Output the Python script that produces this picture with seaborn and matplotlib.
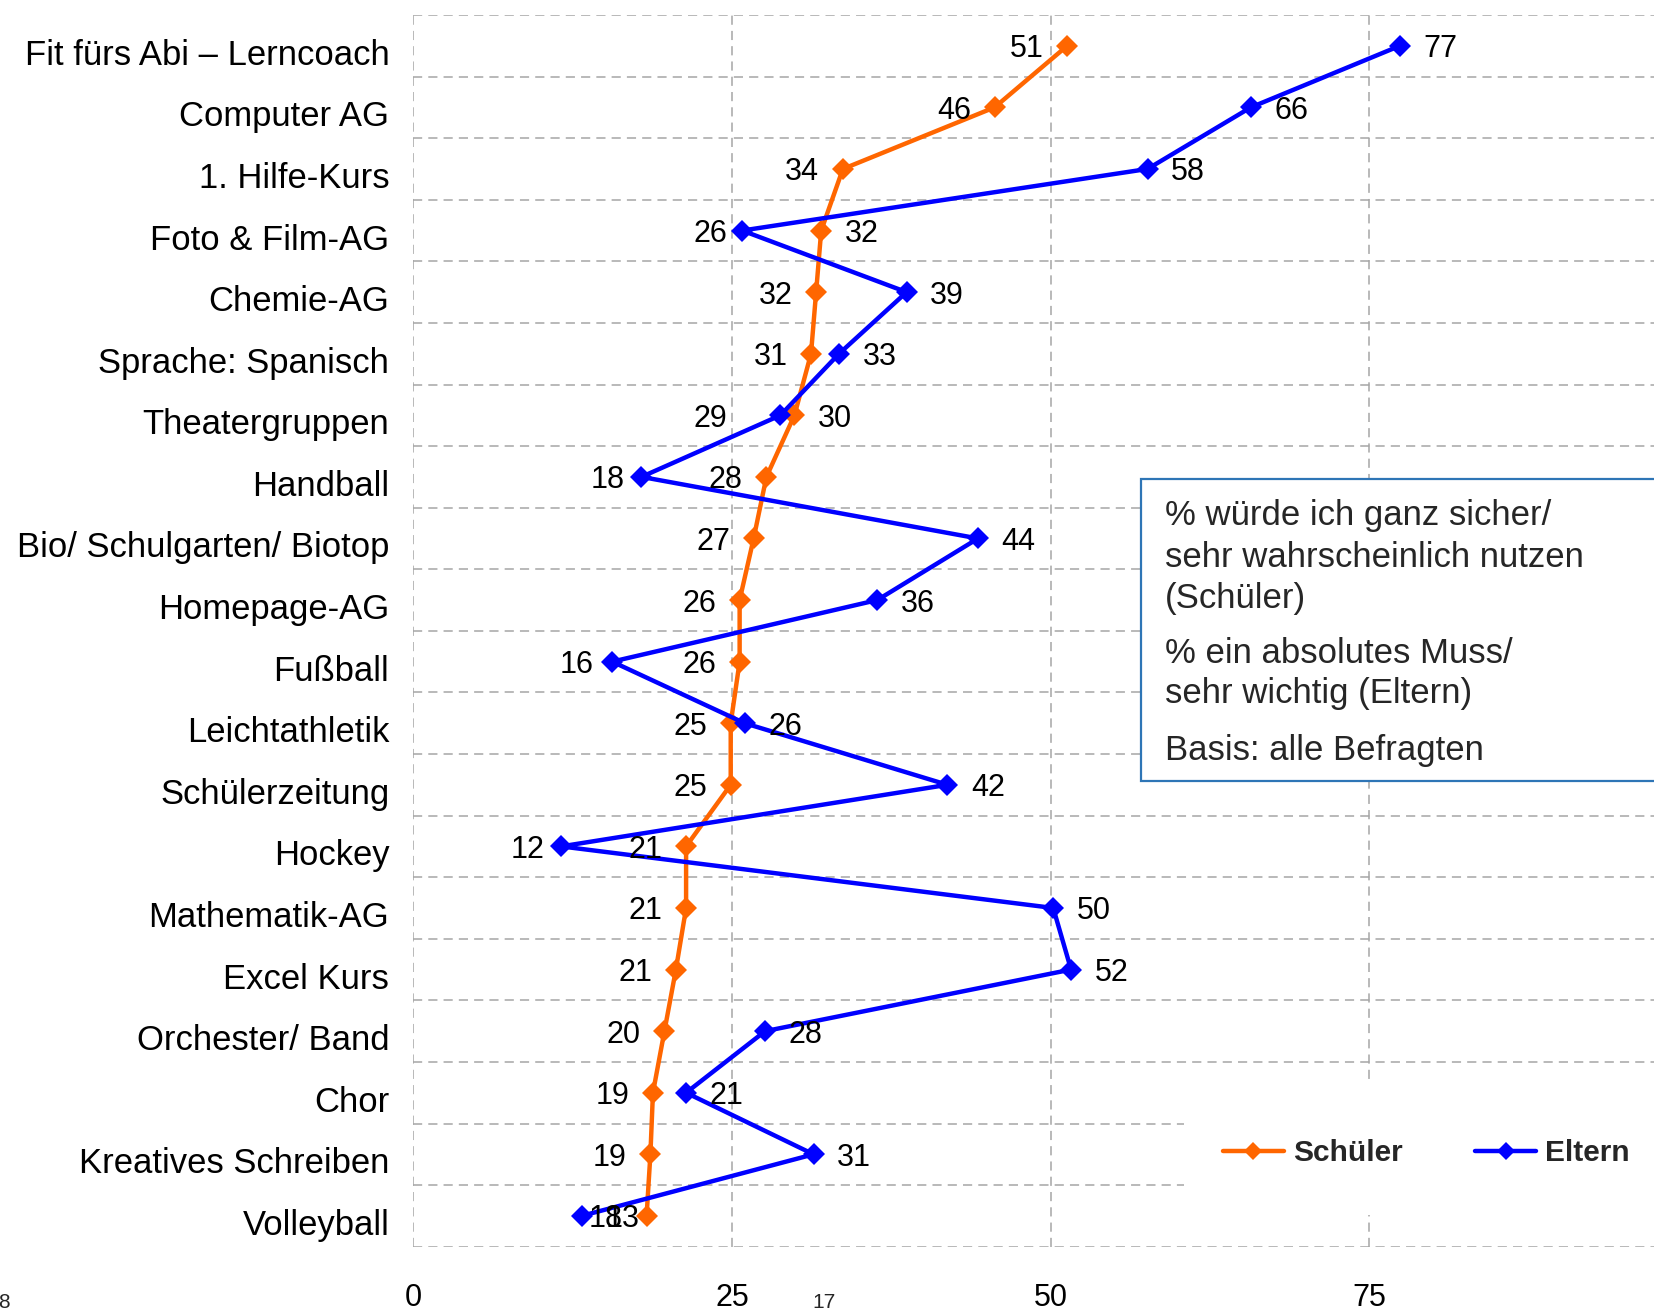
import numpy as np
import pandas as pd
import seaborn as sns
import matplotlib.pyplot as plt
from matplotlib.lines import Line2D
from matplotlib.patches import Rectangle
from matplotlib.transforms import ScaledTranslation

# data (percent)
angebote = [
    "Fit fürs Abi – Lerncoach", "Computer AG", "1. Hilfe-Kurs", "Foto & Film-AG",
    "Chemie-AG", "Sprache: Spanisch", "Theatergruppen", "Handball",
    "Bio/ Schulgarten/ Biotop", "Homepage-AG", "Fußball", "Leichtathletik",
    "Schülerzeitung", "Hockey", "Mathematik-AG", "Excel Kurs",
    "Orchester/ Band", "Chor", "Kreatives Schreiben", "Volleyball",
]
schueler = [51.3, 45.6, 33.7, 32.0, 31.6, 31.2, 29.9, 27.7, 26.7, 25.6,
            25.6, 24.9, 24.9, 21.4, 21.4, 20.6, 19.7, 18.8, 18.6, 18.3]
eltern = [77.4, 65.7, 57.6, 25.8, 38.7, 33.4, 28.8, 17.9, 44.3, 36.4,
          15.6, 26.0, 41.9, 11.6, 50.2, 51.6, 27.6, 21.4, 31.4, 13.2]
x_ticks = [0, 25, 50, 75]

# horizontal offset (points) of each value label from its marker, negative = left
schueler_dx = [-17, -17, -17, 17, -17, -17, 17, -17, -17, -17,
               -17, -17, -17, -17, -17, -17, -17, -17, -17, -17]
eltern_dx = [17, 17, 17, -11, 17, 17, -38, -12, 17, 17,
             -13, 17, 17, -12, 17, 17, 17, 17, 17, 17]

info_zeilen = [
    "% würde ich ganz sicher/",
    "sehr wahrscheinlich nutzen",
    "(Schüler)",
    "% ein absolutes Muss/",
    "sehr wichtig (Eltern)",
    "Basis: alle Befragten",
]

sns.set_style("white")
plt.rcParams["font.family"] = ["Liberation Sans", "DejaVu Sans"]

W, H = 1654, 1312
fig = plt.figure(figsize=(W / 100, H / 100), dpi=100)
ax = fig.add_axes([413.3 / W, 1 - 1246.7 / H, 1 - 413.3 / W, (1246.7 - 15) / H])

n = len(angebote)
pos = np.arange(n)
df = pd.DataFrame({
    "pos": np.concatenate([pos, pos]),
    "wert": schueler + eltern,
    "gruppe": ["Schüler"] * n + ["Eltern"] * n,
})

farben = {"Schüler": "#FF6600", "Eltern": "#0000FF"}
for gruppe, farbe in farben.items():
    sns.lineplot(data=df[df["gruppe"] == gruppe], x="wert", y="pos",
                 sort=False, orient="y", estimator=None, color=farbe,
                 lw=3.2, marker="D", markersize=11, markeredgewidth=0,
                 legend=False, ax=ax, zorder=3)

# value labels
for werte, abstaende in [(schueler, schueler_dx), (eltern, eltern_dx)]:
    for i, (v, dx) in enumerate(zip(werte, abstaende)):
        ax.annotate(f"{v:.0f}", (v, i), xytext=(dx, 0),
                    textcoords="offset points",
                    ha="right" if dx < 0 else "left", va="center_baseline",
                    fontsize=22, color="black", zorder=4)

ax.set_xlim(0, 97.33)
ax.set_ylim(n - 0.5, -0.5)
ax.set_xticks(x_ticks)
ax.set_yticks(pos, angebote)
ax.set_yticks(np.arange(-0.5, n, 1), minor=True)
ax.tick_params(axis="y", which="both", length=0, pad=17.3, labelsize=24.9, labelcolor="black")
ax.tick_params(axis="x", length=0, pad=26, labelsize=22, labelcolor="black")
ax.set_xlabel("")
ax.set_ylabel("")
for sp in ax.spines.values():
    sp.set_visible(False)

# category names sit a little below the row centre in the reference
shift = ScaledTranslation(0, -6 / 100, fig.dpi_scale_trans)
for lab in ax.get_yticklabels():
    lab.set_transform(lab.get_transform() + shift)

grid_kw = dict(color="#A6A6A6", linestyle=(0, (6, 4)), lw=1.1)
ax.xaxis.grid(True, which="major", **grid_kw)
ax.yaxis.grid(True, which="minor", **grid_kw)
ax.yaxis.grid(False, which="major")
ax.set_axisbelow(True)

# info box
fig.patches.append(Rectangle((1141 / W, 1 - 780.7 / H), 1, (780.7 - 479) / H,
                             transform=fig.transFigure, facecolor="white",
                             edgecolor="#2E75B6", lw=1.6, zorder=2))
for zeile, basis in zip(info_zeilen, [525, 567, 608, 663, 703, 760]):
    fig.text(1165 / W, 1 - basis / H, zeile, fontsize=25, va="baseline", zorder=3)

# legend area
fig.patches.append(Rectangle((1184 / W, 1 - 1215 / H), 1, (1215 - 1085) / H,
                             transform=fig.transFigure, facecolor="white",
                             edgecolor="none", zorder=2))
handles = [Line2D([], [], color=c, lw=3.2, marker="D", markersize=9, markeredgewidth=0)
           for c in farben.values()]
fig.legend(handles, list(farben.keys()), loc="center left",
           bbox_to_anchor=(1223 / W, 1 - 1153 / H), ncol=2, frameon=False,
           borderpad=0, borderaxespad=0, handlelength=2.04, handletextpad=0.3,
           columnspacing=2.44, prop={"weight": "bold", "size": 21.5})

# stray labels along the bottom edge
fig.text(812 / W, 1 - 1308 / H, "17", fontsize=15, va="baseline")
fig.text(10 / W, 1 - 1308 / H, "8", fontsize=15, ha="right", va="baseline")

fig.savefig("out.png", dpi=100)
